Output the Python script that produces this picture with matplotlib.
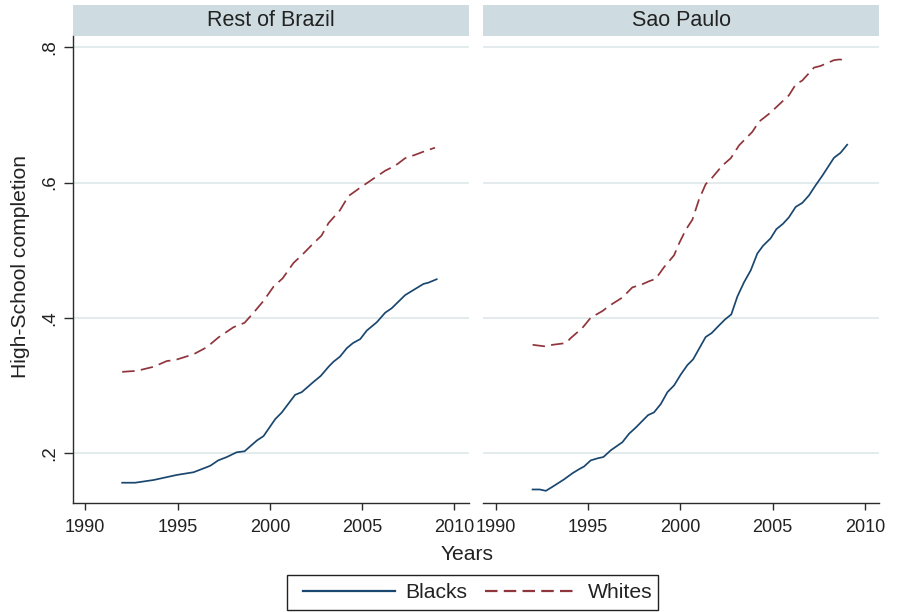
import matplotlib
matplotlib.use("Agg")
import matplotlib.pyplot as plt
from matplotlib.lines import Line2D
from matplotlib.patches import Rectangle

plt.rcParams['font.family'] = ['Liberation Sans', 'DejaVu Sans']
plt.rcParams['lines.scale_dashes'] = False

# ---- data -------------------------------------------------------------
panels = ["Rest of Brazil", "Sao Paulo"]

rb_black_years = [1992.0, 1992.7, 1993.7, 1994.96, 1995.87, 1996.77, 1997.2, 1997.67,
                  1998.2, 1998.63, 1999.3, 1999.66, 2000.29, 2000.65, 2001.37, 2001.73,
                  2002.36, 2002.76, 2003.18, 2003.45, 2003.8, 2004.17, 2004.5, 2004.9,
                  2005.25, 2005.8, 2006.25, 2006.6, 2007.33, 2007.78, 2008.32, 2008.6,
                  2009.04]
rb_black_vals = [0.156, 0.156, 0.160, 0.1675, 0.1715, 0.181, 0.189, 0.194,
                 0.201, 0.2025, 0.2185, 0.225, 0.250, 0.260, 0.286, 0.290,
                 0.305, 0.314, 0.3275, 0.335, 0.3425, 0.355, 0.3625, 0.3685,
                 0.381, 0.3935, 0.4075, 0.414, 0.4335, 0.441, 0.450, 0.452,
                 0.457]

rb_white_years = [1992.0, 1992.8, 1993.7, 1994.42, 1994.87, 1995.87, 1996.59, 1997.22,
                  1998.03, 1998.63, 1999.12, 1999.66, 2000.2, 2000.7, 2001.28, 2001.73,
                  2002.36, 2002.8, 2003.18, 2003.8, 2004.26, 2004.9, 2005.52, 2006.25,
                  2006.8, 2007.33, 2007.87, 2008.5, 2008.95]
rb_white_vals = [0.320, 0.3215, 0.3275, 0.336, 0.3375, 0.346, 0.3565, 0.371,
                 0.386, 0.3925, 0.4075, 0.425, 0.446, 0.4585, 0.481, 0.4925,
                 0.510, 0.5215, 0.540, 0.559, 0.580, 0.5925, 0.604, 0.6175,
                 0.625, 0.636, 0.641, 0.6475, 0.6515]

sp_black_years = [1991.99, 1992.38, 1992.71, 1993.07, 1993.7, 1994.15, 1994.51, 1994.78,
                  1995.14, 1995.5, 1995.83, 1996.23, 1996.86, 1997.22, 1997.58, 1998.25,
                  1998.57, 1998.94, 1999.3, 1999.66, 2000.02, 2000.38, 2000.69, 2001.37,
                  2001.7, 2002.09, 2002.42, 2002.76, 2003.09, 2003.45, 2003.81, 2004.17,
                  2004.48, 2004.89, 2005.2, 2005.56, 2005.88, 2006.25, 2006.61, 2006.97,
                  2007.33, 2007.69, 2008.32, 2008.68, 2009.04]
sp_black_vals = [0.146, 0.146, 0.144, 0.150, 0.161, 0.170, 0.176, 0.180,
                 0.189, 0.192, 0.194, 0.204, 0.216, 0.2285, 0.2375, 0.256,
                 0.260, 0.2725, 0.290, 0.300, 0.316, 0.330, 0.3385, 0.3715,
                 0.3775, 0.3885, 0.3975, 0.405, 0.4315, 0.4525, 0.470, 0.495,
                 0.5065, 0.5175, 0.531, 0.539, 0.5485, 0.564, 0.570, 0.581,
                 0.596, 0.610, 0.6365, 0.644, 0.656]

sp_white_years = [1991.99, 1992.71, 1993.07, 1993.79, 1994.06, 1994.69, 1995.14, 1995.78,
                  1996.14, 1996.86, 1997.4, 1997.85, 1998.3, 1998.66, 1999.12, 1999.66,
                  1999.93, 2000.29, 2000.65, 2001.01, 2001.37, 2001.73, 2002.27, 2002.73,
                  2003.18, 2003.54, 2003.9, 2004.26, 2004.89, 2005.43, 2005.88, 2006.25,
                  2006.61, 2007.24, 2007.6, 2008.32, 2008.59, 2009.04]
sp_white_vals = [0.360, 0.3575, 0.360, 0.3625, 0.370, 0.385, 0.400, 0.410,
                 0.4175, 0.430, 0.445, 0.4485, 0.454, 0.4575, 0.475, 0.4925,
                 0.510, 0.530, 0.545, 0.575, 0.5975, 0.6075, 0.625, 0.636,
                 0.655, 0.665, 0.675, 0.690, 0.7035, 0.7175, 0.729, 0.745,
                 0.751, 0.770, 0.7725, 0.781, 0.782, 0.7815]

x_ticks = [1990, 1995, 2000, 2005, 2010]
y_ticks = [0.2, 0.4, 0.6, 0.8]
y_tick_labels = [".2", ".4", ".6", ".8"]
series_labels = ["Blacks", "Whites"]

# ---- style --------------------------------------------------------------
BLUE = "#1a476f"
RED = "#90353b"
STRIP = "#cedce2"
GRID = "#e1e9ec"
AXC = "#2b2b2b"
TXT = "#222222"
DASH = (0, (9, 4.5))

W, H = 897, 612
fig = plt.figure(figsize=(W / 100, H / 100), dpi=100)
fig.patch.set_facecolor("white")

top_px, bot_px = 35.5, 503
panel_x = [(72.7, 468.8), (483.3, 879.3)]
data = [
    (rb_black_years, rb_black_vals, rb_white_years, rb_white_vals),
    (sp_black_years, sp_black_vals, sp_white_years, sp_white_vals),
]

for i, ((x0, x1), title, d) in enumerate(zip(panel_x, panels, data)):
    ax = fig.add_axes([x0 / W, 1 - bot_px / H, (x1 - x0) / W, (bot_px - top_px) / H])
    ax.set_xlim(1989.32, 2010.78)
    ax.set_ylim(0.126, 0.8175)

    for s in ("top", "right"):
        ax.spines[s].set_visible(False)
    for s in ("bottom", "left"):
        ax.spines[s].set_color(AXC)
        ax.spines[s].set_linewidth(1.0)

    ax.set_yticks(y_ticks)
    ax.yaxis.grid(True, color=GRID, linewidth=1.3)
    ax.set_axisbelow(True)
    ax.set_xticks(x_ticks)
    ax.set_xticklabels([str(t) for t in x_ticks], fontsize=13, color=TXT)
    ax.tick_params(axis="x", direction="out", length=4.8, width=1.0, color=AXC, pad=6.5)

    if i == 0:
        ax.set_yticklabels(y_tick_labels, fontsize=13.5, color=TXT,
                           rotation=90, va="center")
        ax.tick_params(axis="y", direction="out", length=6.2, width=1.0, color=AXC, pad=4.5)
        ax.set_ylabel("High-School completion", fontsize=15.2, color=TXT)
        ax.yaxis.set_label_coords((29.5 - x0) / (x1 - x0),
                                  (bot_px - 266.5) / (bot_px - top_px))
    else:
        ax.spines["left"].set_visible(False)
        ax.tick_params(axis="y", left=False, labelleft=False)

    bx, bv, wx, wv = d
    ax.plot(bx, bv, color=BLUE, linewidth=1.25)
    ax.plot(wx, wv, color=RED, linewidth=1.25, linestyle=DASH)

    # panel strip above the plot region
    strip_h = 30.5 / (bot_px - top_px)
    ax.add_patch(Rectangle((0, 1.0), 1, strip_h, transform=ax.transAxes,
                           facecolor=STRIP, edgecolor="none", clip_on=False))
    ax.text(0.5, 1 + strip_h / 2, title, transform=ax.transAxes, ha="center",
            va="center", fontsize=15.5, color=TXT)

fig.text(467.5 / W, 1 - 555 / H, "Years", ha="center", va="center",
         fontsize=15.2, color=TXT)

# legend: framed box below the panels
fig.patches.append(Rectangle((286.7 / W, 1 - 610 / H), (658 - 286.7) / W, 35 / H,
                             transform=fig.transFigure, facecolor="white",
                             edgecolor=TXT, linewidth=1.0))
handles = [Line2D([], [], color=BLUE, linewidth=1.6),
           Line2D([], [], color=RED, linewidth=1.6, linestyle=DASH)]
leg = fig.legend(handles, series_labels, loc="center left", ncol=2,
                 bbox_to_anchor=(303 / W, 1 - 593 / H), fontsize=15.2,
                 frameon=False, handlelength=4.35, handletextpad=0.5,
                 columnspacing=0.85, borderpad=0, borderaxespad=0,
                 labelcolor=TXT)

fig.savefig("out.png", dpi=100, facecolor="white")
